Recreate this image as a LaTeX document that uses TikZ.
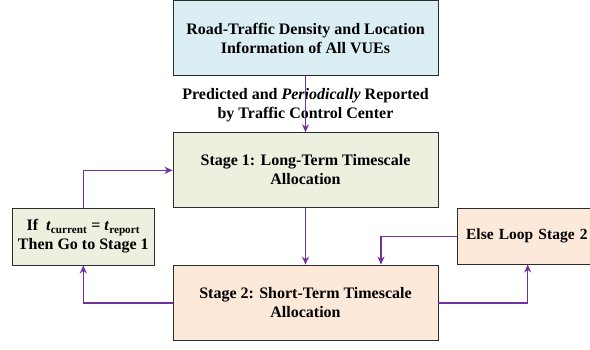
\documentclass[tikz,border=0pt]{standalone}
\usepackage{fontspec}
\setmainfont{Liberation Serif}
\usetikzlibrary{arrows.meta}
\definecolor{bluefill}{HTML}{DBEEF4}
\definecolor{greenfill}{HTML}{EBF1DE}
\definecolor{peachfill}{HTML}{FCE9DA}
\definecolor{arrowpurple}{HTML}{7030A0}
\definecolor{boxline}{HTML}{2B2B2B}
\tikzset{
  txt/.style={font=\bfseries\fontsize{16}{19}\selectfont},
  box/.style={txt, draw=boxline, line width=0.9pt, inner sep=0pt, align=center},
  flow/.style={draw=arrowpurple, line width=1.3pt, -{Stealth[length=8pt,width=7pt]}},
}
\begin{document}
\begin{tikzpicture}[x=1pt,y=-1pt]
\useasboundingbox (0,0) rectangle (590,349);
\node[box, fill=bluefill, minimum width=265pt, minimum height=75pt] (top) at (305.5,38) {Road-Traffic Density and Location\\Information of All VUEs};
\node[box, fill=greenfill, minimum width=265pt, minimum height=74.6pt] (s1) at (305.5,170) {Stage 1: Long-Term Timescale\\Allocation};
\node[box, fill=peachfill, minimum width=265pt, minimum height=75pt] (s2) at (305.5,302.5) {Stage 2: Short-Term Timescale\\Allocation};
\node[box, fill=greenfill, minimum width=141.3pt, minimum height=57pt] (ifb) at (83.3,236.5) {If \ \textit{t}\textsubscript{current} = \textit{t}\textsubscript{report}\\Then Go to Stage 1};
\node[box, fill=peachfill, minimum width=150pt, minimum height=56pt, anchor=west, text width=150pt, align=left, font=\bfseries\fontsize{15.5}{19}\selectfont] (els) at (456.7,236) {\hspace{9pt}Else Loop Stage 2};
\node[txt, align=center] (lbl) at (305.5,105) {Predicted and \textit{Periodically} Reported\\by Traffic Control Center};
\coordinate (c1) at (83.3,170.3);
\coordinate (c2) at (83.3,303);
\coordinate (c3) at (527.7,303);
\coordinate (c4) at (381,236.3);
\draw[flow] (top.south) -- (s1.north);
\draw[flow] (s1.south) -- (s2.north);
\draw[flow] (s2.west |- c2) -- (c2) -- (ifb.south);
\draw[flow] (ifb.north) -- (c1) -- (s1.west |- c1);
\draw[flow] (s2.east |- c3) -- (c3) -- (c3 |- els.south);
\draw[flow] (els.west |- c4) -- (c4) -- (c4 |- s2.north);
\end{tikzpicture}
\end{document}
